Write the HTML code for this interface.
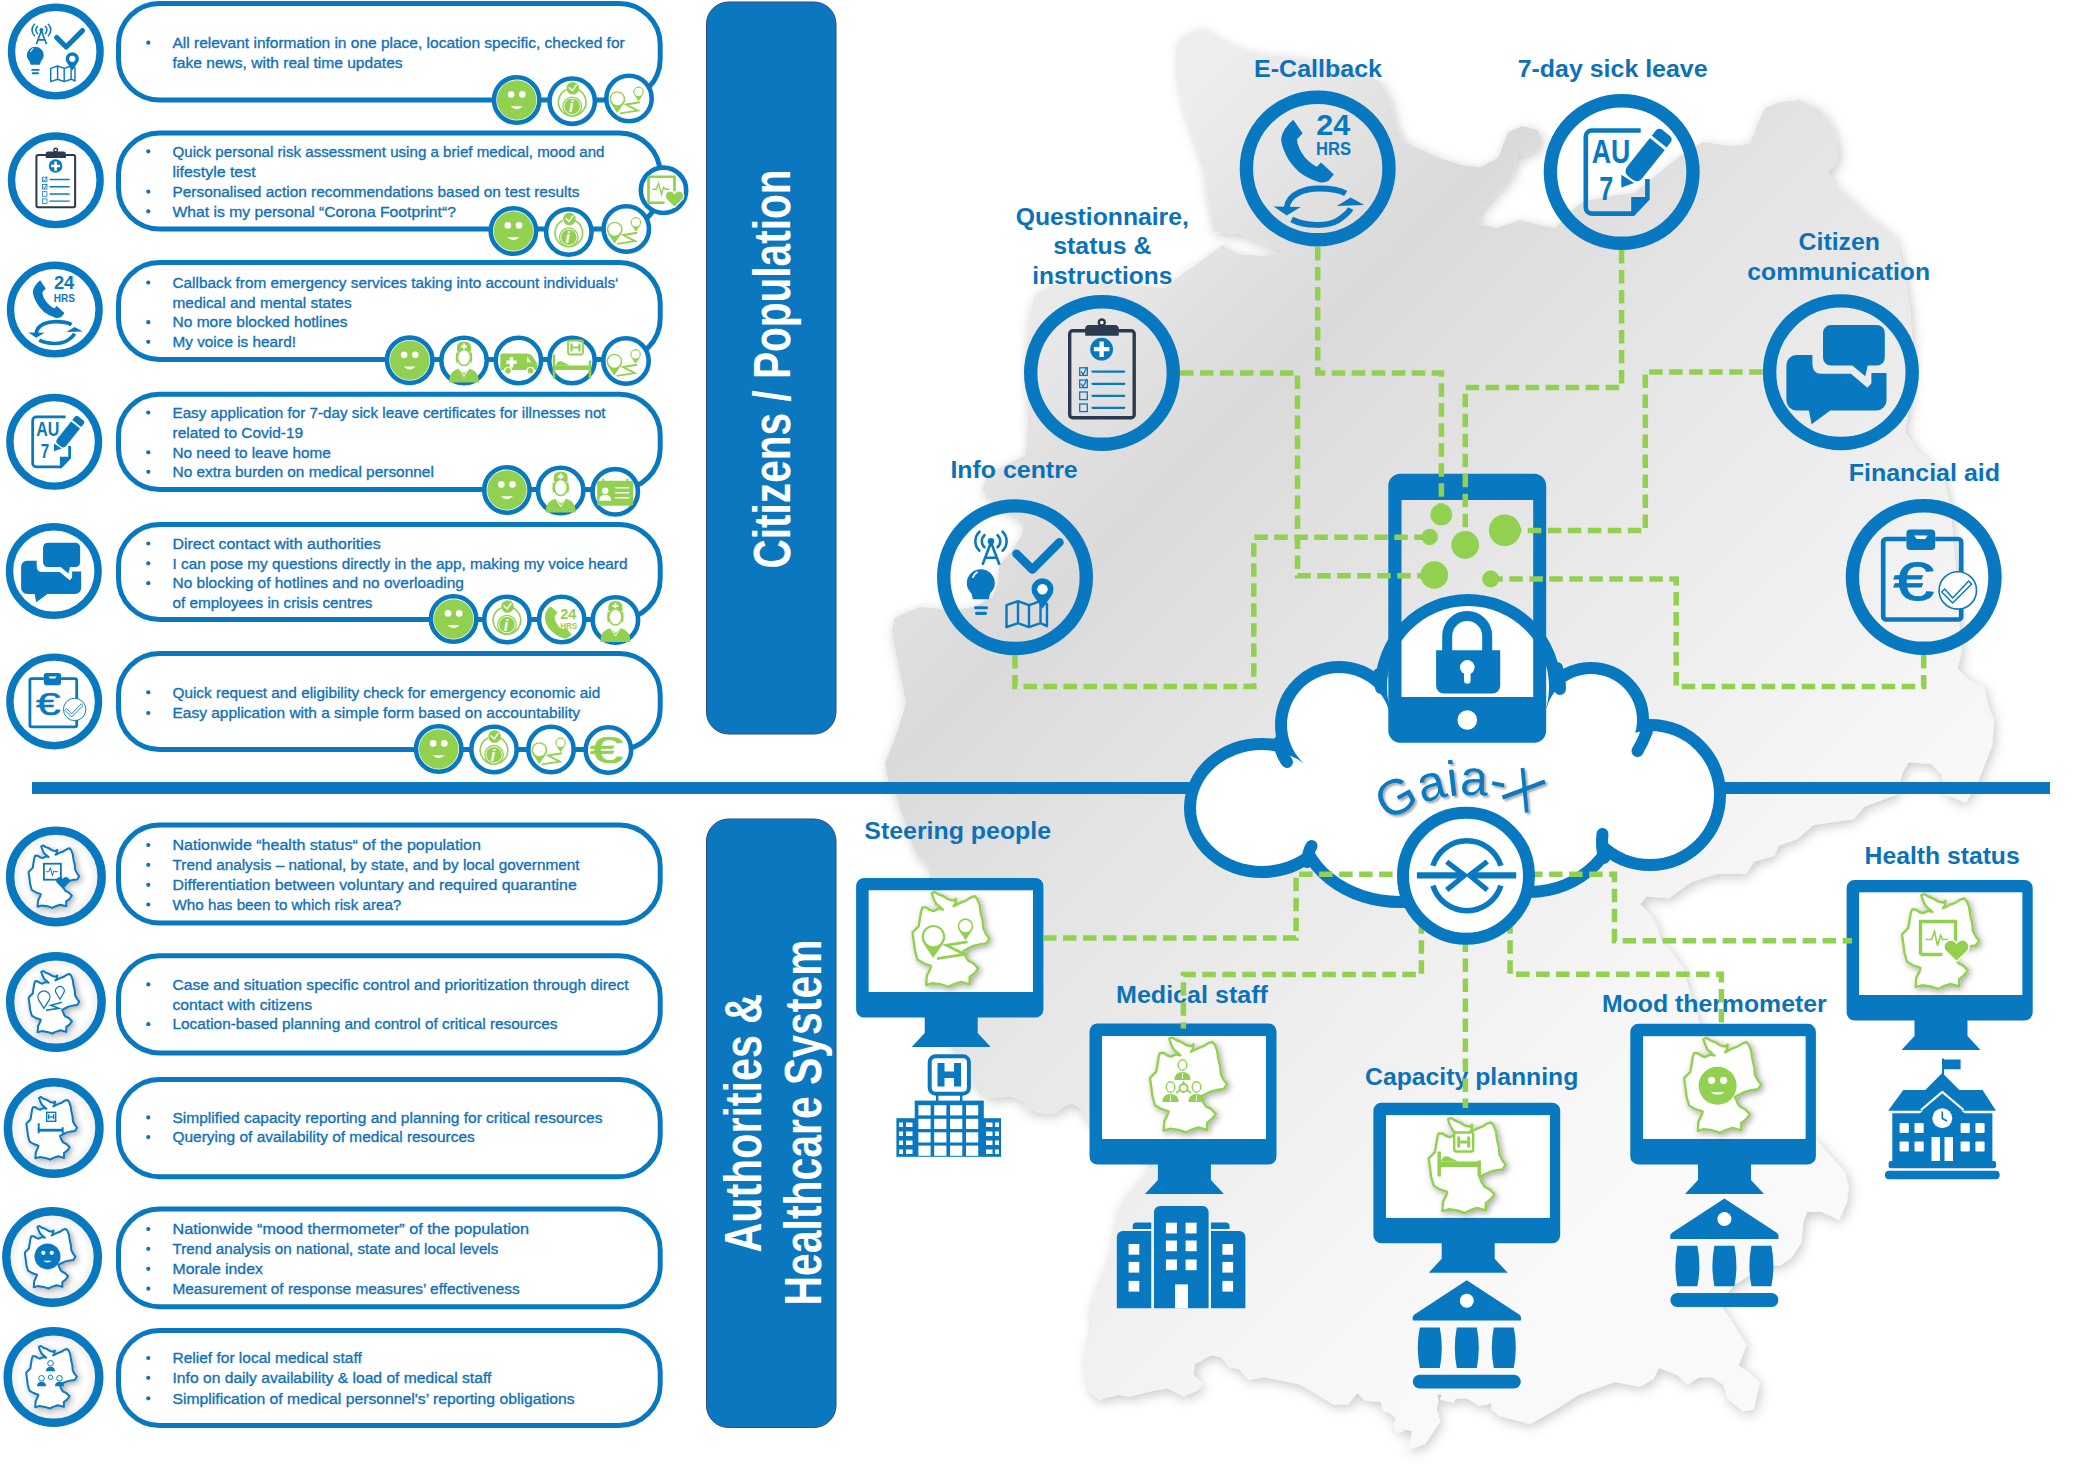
<!DOCTYPE html>
<html><head><meta charset="utf-8"><title>Citizens / Authorities - Gaia-X</title>
<style>
html,body{margin:0;padding:0;background:#fff;width:2083px;height:1475px;overflow:hidden;}
svg text{font-family:"Liberation Sans",sans-serif;}
</style></head>
<body>
<svg xmlns="http://www.w3.org/2000/svg" width="2083" height="1475" viewBox="0 0 2083 1475" style="position:absolute;left:0;top:0"><defs>
<linearGradient id="mapg" gradientUnits="userSpaceOnUse" x1="636" y1="636" x2="1414" y2="1414"><stop offset="0" stop-color="#eeeeee"/><stop offset="0.098" stop-color="#e6e6e6"/><stop offset="0.145" stop-color="#e1e1e1"/><stop offset="0.245" stop-color="#dadada"/><stop offset="0.339" stop-color="#dfdfdf"/><stop offset="0.464" stop-color="#e5e5e5"/><stop offset="0.855" stop-color="#f5f5f5"/><stop offset="1" stop-color="#f9f9f9"/></linearGradient>
<filter id="mapsh" x="-5%" y="-5%" width="110%" height="110%"><feGaussianBlur in="SourceAlpha" stdDeviation="6"/><feOffset dx="2" dy="3" result="b"/><feFlood flood-color="#000" flood-opacity="0.22"/><feComposite in2="b" operator="in"/><feMerge><feMergeNode/><feMergeNode in="SourceGraphic"/></feMerge></filter>
<filter id="smsh" x="-30%" y="-30%" width="160%" height="160%"><feGaussianBlur in="SourceAlpha" stdDeviation="3"/><feOffset dx="2" dy="2" result="b"/><feFlood flood-color="#000" flood-opacity="0.35"/><feComposite in2="b" operator="in"/><feMerge><feMergeNode/><feMergeNode in="SourceGraphic"/></feMerge></filter>
<filter id="txsh" x="-10%" y="-10%" width="120%" height="130%"><feGaussianBlur in="SourceAlpha" stdDeviation="1.2"/><feOffset dx="2" dy="2" result="b"/><feFlood flood-color="#000" flood-opacity="0.35"/><feComposite in2="b" operator="in"/><feMerge><feMergeNode/><feMergeNode in="SourceGraphic"/></feMerge></filter>
<radialGradient id="innersh" cx="0.5" cy="0.5" r="0.5"><stop offset="0.72" stop-color="#fff"/><stop offset="0.9" stop-color="#f0f0f0"/><stop offset="1" stop-color="#c8c8c8"/></radialGradient>
<g id="ic_info">
<g fill="none" stroke="#0879c0" stroke-width="2.6" stroke-linecap="round">
<path d="M-30.5,-42 A8,8 0 0 0 -30.5,-30"/><path d="M-35.5,-45.5 A13,13 0 0 0 -35.5,-26.5"/>
<path d="M-17.5,-42 A8,8 0 0 1 -17.5,-30"/><path d="M-12.5,-45.5 A13,13 0 0 1 -12.5,-26.5"/>
</g>
<circle cx="-24" cy="-36" r="3.3" fill="#0879c0"/>
<path d="M-24,-35 L-32.5,-12.5 M-24,-35 L-15.5,-12.5 M-29.5,-19.5 L-18.5,-19.5" stroke="#0879c0" stroke-width="2.6" fill="none"/>
<path d="M1.5,-23.5 L17.3,-7.7 L44.5,-35" stroke="#0879c0" stroke-width="8.6" fill="none" stroke-linecap="round" stroke-linejoin="round"/>
<path d="M-34.2,-8 a14,14 0 0 1 14,14 c0,5 -3,8 -5,11 l-1,5 h-16 l-1,-5 c-2,-3 -5,-6 -5,-11 a14,14 0 0 1 14,-14z" fill="#0879c0"/>
<path d="M-42,0 a9,9 0 0 1 4,-5" stroke="#fff" stroke-width="1.8" fill="none" stroke-linecap="round"/>
<rect x="-41" y="29" width="14" height="3" rx="1.5" fill="#0879c0"/>
<rect x="-40" y="34.5" width="12" height="3.2" rx="1.6" fill="#0879c0"/>
<path d="M-8.5,28 L3,24 L14,28 L25.5,24 L32,27 L32,49 L25.5,46 L14,50 L3,46 L-8.5,50 Z M3,24 V46 M14,28 V50 M25.5,24 V46" fill="none" stroke="#0879c0" stroke-width="2.4" stroke-linejoin="round"/>
<path d="M27.5,31.5 L19,19 A11,11 0 1 1 36,19 Z" fill="#0879c0"/>
<circle cx="27.5" cy="12" r="5.2" fill="#fff"/>
</g>
<g id="ic_quest">
<rect x="-32.3" y="-42.2" width="64.5" height="87" rx="3" fill="none" stroke="#2b3b4f" stroke-width="3.4"/>
<path d="M-16.8,-37.2 V-44 a4,4 0 0 1 4,-4 H12.8 a4,4 0 0 1 4,4 V-37.2 Z" fill="#2b3b4f"/>
<circle cx="-0.2" cy="-50.5" r="4.2" fill="#2b3b4f"/><circle cx="-0.2" cy="-50.5" r="1.8" fill="#fff"/>
<circle cx="-0.4" cy="-23.8" r="11.4" fill="#0879c0"/>
<path d="M-0.4,-31.5 V-16.1 M-8.1,-23.8 H7.3" stroke="#fff" stroke-width="4.3"/>
<g fill="none" stroke="#0879c0" stroke-width="1.3">
<rect x="-22.3" y="-5.2" width="7.6" height="7.6"/><rect x="-22.3" y="7" width="7.6" height="7.6"/>
<rect x="-22.3" y="19" width="7.6" height="7.6"/><rect x="-22.3" y="31" width="7.6" height="7.6"/>
<path d="M-21,-1.5 L-18.8,1.5 L-15,-6 M-21,10.7 L-18.8,13.7 L-15,6"/>
</g>
<g stroke="#0879c0" stroke-width="2.3" stroke-linecap="round">
<path d="M-9.5,-1.4 H22.2 M-9.5,10.8 H22.2 M-9.5,22.8 H22.2 M-9.5,34.8 H22.2"/>
</g>
</g>
<g id="ic_call">
<path d="M-24.4,-48.8 L-15.1,-35.3 L-20.8,-28.9 Q-20,-20 -12.3,-10.4 Q-6,-4 -0.9,-1.8 L3.4,-6.1 L16.2,6 L10.5,12.4 Q5,14.5 1.9,13.8 Q-10,10 -18,3.9 Q-28,-5 -32.2,-14.6 Q-37,-25 -36.5,-30 Q-35,-40 -24.4,-48.8 Z" fill="#0879c0"/>
<text x="-1.5" y="-33.8" font-family="Liberation Sans" font-weight="bold" font-size="30" fill="#0879c0" textLength="34" lengthAdjust="spacingAndGlyphs">24</text>
<text x="-1.6" y="-13.2" font-family="Liberation Sans" font-weight="bold" font-size="19" fill="#0879c0" textLength="35" lengthAdjust="spacingAndGlyphs">HRS</text>
<path d="M-31,40 C-30,24 -10,20 1,20 C14,20 23,22 28,25" fill="none" stroke="#0879c0" stroke-width="6"/>
<path d="M-44,38 L-17,38.5 L-31,47 Z" fill="#0879c0"/>
<path d="M-26,51 C-12,58 10,58 20,52 C26,48 31,44 33,40" fill="none" stroke="#0879c0" stroke-width="6"/>
<path d="M19,37.5 L46.5,36.5 L33,29 Z" fill="#0879c0"/>
</g>
<g id="ic_au">
<path d="M19,-41.5 H-29.9 A6,6 0 0 0 -35.9,-35.5 V35.6 A6,6 0 0 0 -29.9,41.6 H11.5 L25.7,26.5 V7" fill="none" stroke="#0879c0" stroke-width="4.6"/>
<path d="M9.5,24.9 H25.7 V27 L11,43.9 H9.5 Z" fill="#0879c0"/>
<text x="-30" y="-9.3" font-family="Liberation Sans" font-weight="bold" font-size="33" fill="#0879c0" textLength="38.5" lengthAdjust="spacingAndGlyphs">AU</text>
<text x="-22.5" y="27.7" font-family="Liberation Sans" font-weight="bold" font-size="33" fill="#0879c0" textLength="14" lengthAdjust="spacingAndGlyphs">7</text>
<g transform="translate(14.5,-1.5) rotate(-51.5)">
<path d="M-3,-9.5 H33.9 V9.5 H-3 a6.5,6.5 0 0 1 -6.5,-6.5 V-3 a6.5,6.5 0 0 1 6.5,-6.5 Z" fill="#0879c0"/>
<path d="M37,-9.5 H43.5 a4.5,4.5 0 0 1 4.5,4.5 V5 a4.5,4.5 0 0 1 -4.5,4.5 H37 Z" fill="#0879c0"/>
</g>
<path d="M-0.4,2.8 L12.4,11 L-0.4,15.6 Z" fill="#0879c0"/>
</g>
<g id="ic_chat">
<path d="M-44.5,-17.2 H-28.5 V-8 Q-28.5,1.6 -19.5,1.6 H10 L26.5,15.5 L30.5,11 V0.8 H45.6 V28.2 a10,10 0 0 1 -10,10 H-10.6 L-29.3,52 L-32,38.2 H-44.5 a10,10 0 0 1 -10,-10 V-7.2 a10,10 0 0 1 10,-10 Z" fill="#0879c0"/>
<path d="M-9.9,-47.2 H35.9 a8,8 0 0 1 8,8 V-14.6 a8,8 0 0 1 -8,8 H26.8 L24.4,4 L11.4,-6.6 H-9.9 a8,8 0 0 1 -8,-8 V-39.2 a8,8 0 0 1 8,-8 Z" fill="#0879c0"/>
</g>
<g id="ic_fin">
<path d="M-17.3,-38 H-37.5 a3,3 0 0 0 -3,3 V39.5 a3,3 0 0 0 3,3 H34.5 a3,3 0 0 0 3,-3 V-35 a3,3 0 0 0 -3,-3 H11.5" fill="none" stroke="#0879c0" stroke-width="4.7"/>
<rect x="-17.3" y="-47.4" width="28.8" height="20.3" rx="4" fill="#0879c0"/>
<path d="M-9.5,-41.5 H4 L1.5,-38 H-7 Z" fill="#fff"/>
<text x="-30.5" y="22.8" font-family="Liberation Sans" font-size="53" fill="#0879c0" stroke="#0879c0" stroke-width="0.8" textLength="41" lengthAdjust="spacingAndGlyphs">&#8364;</text>
<circle cx="34.1" cy="13.4" r="18.7" fill="#fff" stroke="#0879c0" stroke-width="1.6"/>
<path d="M21,12 L29,21 L45,4 L48,7 L29,26 L18,15 Z" fill="#fff" stroke="#0879c0" stroke-width="1.5" stroke-linejoin="round"/>
</g>
<g id="g_smile">
<circle r="19.8" fill="#92d050"/>
<circle cx="-5.6" cy="-5.6" r="3.3" fill="#fff"/><circle cx="5.6" cy="-5.6" r="3.3" fill="#fff"/>
<path d="M-6.2,6.3 Q0,12 6.2,6.3 Z" fill="#fff"/>
</g>
<g id="g_info">
<path d="M-6,-11.5 A13.8,13.8 0 1 0 6,-11.5" fill="none" stroke="#92d050" stroke-width="1.6"/>
<circle cy="5.2" r="9.9" fill="#92d050"/>
<circle cy="5.2" r="8.2" fill="none" stroke="#fff" stroke-width="0.9"/>
<text x="-3.2" y="11" font-family="Liberation Serif" font-style="italic" font-weight="bold" font-size="16" fill="#fff">i</text>
<circle cx="0.6" cy="-13" r="6.3" fill="#92d050"/>
<path d="M-3.4,-14 L0.2,-10.5 L4.5,-16.5" fill="none" stroke="#fff" stroke-width="1.3"/>
</g>
<g id="pins">
<path d="M-17.9,18.5 L-27.8,3.6 A11.9,11.9 0 1 1 -7.4,3.6 Z" fill="#92d050"/>
<circle cx="-17.6" cy="-2.8" r="9.6" fill="#fff"/>
<path d="M14.5,0.8 L7.9,-9.1 A7.8,7.8 0 1 1 21.1,-9.1 Z" fill="#92d050"/>
<circle cx="14.5" cy="-13.3" r="6.2" fill="#fff"/>
<path d="M16.5,2.4 L-4.5,5.8 L13.5,15 L-14,19.3" fill="none" stroke="#92d050" stroke-width="2.8" stroke-linejoin="miter" stroke-miterlimit="12"/>
</g>
<g id="g_loc"><use href="#pins" transform="translate(0,2.2) scale(0.66)"/></g>
<g id="g_nurse">
<path d="M-7,-13 Q-7,-19 0,-19 Q7,-19 7,-13 V-9 H-7 Z" fill="#92d050"/>
<path d="M-1,-17 H1 V-15 H3 V-13 H1 V-11 H-1 V-13 H-3 V-15 H-1 Z" fill="#fff"/>
<ellipse cx="0" cy="-3" rx="6.5" ry="8" fill="#fff" stroke="#92d050" stroke-width="1.6"/>
<path d="M-7,-8 Q-8,-2 -7,2 M7,-8 Q8,-2 7,2" stroke="#92d050" stroke-width="1.6" fill="none"/>
<path d="M-15,22 Q-15,10 -5,8 L0,13 L5,8 Q15,10 15,22 Z" fill="#92d050"/>
<path d="M-5,8 L0,16 L5,8" stroke="#fff" stroke-width="1" fill="none"/>
</g>
<g id="g_amb" transform="scale(0.86)">
<path d="M-21,-6 a2,2 0 0 1 2,-2 H9 Q14,-8 17,-4 L21,2 Q22,4 22,6 V11 H-21 Z" fill="#92d050"/>
<path d="M10,-5 L15,2 H10 Z" fill="#fff"/>
<path d="M-10,-4 H-6 V0 H-2 V4 H-6 V8 H-10 V4 H-14 V0 H-10 Z" fill="#fff"/>
<circle cx="-12" cy="12" r="4" fill="#92d050" stroke="#fff" stroke-width="1.5"/>
<circle cx="14" cy="12" r="4" fill="#92d050" stroke="#fff" stroke-width="1.5"/>
</g>
<g id="g_bed">
<rect x="-4" y="-20" width="15" height="14" rx="2" fill="none" stroke="#92d050" stroke-width="1.8"/>
<path d="M-0.5,-17 V-9 M7.5,-17 V-9 M-0.5,-13 H7.5" stroke="#92d050" stroke-width="2.2"/>
<path d="M-18,-6 V18 M18,0 V18" stroke="#92d050" stroke-width="2.6"/>
<rect x="-18" y="5" width="36" height="4.5" fill="#92d050"/>
<path d="M-16,5 Q-15,0 -10,1 L-2,5 Z" fill="#92d050"/>
</g>
<g id="g_card">
<rect x="-18" y="-11" width="36" height="25" rx="2.5" fill="#92d050"/>
<path d="M-12,-13 V-9 M12,-13 V-9" stroke="#92d050" stroke-width="2"/>
<circle cx="-10" cy="-1" r="3.2" fill="#fff"/>
<path d="M-16,9 Q-16,3 -10,3 Q-4,3 -4,9 Z" fill="#fff"/>
<path d="M0,-4 H14 M0,1 H14 M0,6 H14" stroke="#fff" stroke-width="1.4"/>
</g>
<g id="g_24">
<path d="M-11,-13 C-18,-9 -18,1 -14,7 C-10,13 -3,18 3,19 C6,19 8,17 10,15 L4,8 C2,10 0,10 -2,8 C-5,5 -7,1 -7,-2 C-7,-4 -6,-5 -4,-7 Z" fill="#92d050"/>
<text x="-1.5" y="-1" font-family="Liberation Sans" font-weight="bold" font-size="15" fill="#92d050" textLength="16" lengthAdjust="spacingAndGlyphs">24</text>
<text x="-1.5" y="9" font-family="Liberation Sans" font-weight="bold" font-size="9.5" fill="#92d050" textLength="17" lengthAdjust="spacingAndGlyphs">HRS</text>
</g>
<g id="g_euro">
<text x="-18.5" y="13" font-family="Liberation Sans" font-size="37" fill="#92d050" stroke="#92d050" stroke-width="0.7" textLength="33" lengthAdjust="spacingAndGlyphs">&#8364;</text>
</g>
<g id="g_heart">
<path d="M-15,-13.5 H11 V1 M-15,-13.5 V12.5 H1" fill="none" stroke="#92d050" stroke-width="2.6"/>
<path d="M-11,-1 H-7 L-5,-7 L-2,4 L0,-3 L2,-1 H6" fill="none" stroke="#92d050" stroke-width="1.4"/>
<path d="M11,17 L2.5,8.5 A4.5,4.5 0 0 1 11,3 A4.5,4.5 0 0 1 19.5,8.5 Z" fill="#92d050" stroke="#fff" stroke-width="1.2"/>
</g>
</defs>
<path d="M1178.0,42.0 L1190.0,32.0 L1205.0,30.0 L1215.0,38.0 L1240.0,50.0 L1265.0,55.0 L1300.0,58.0 L1335.0,66.0 L1365.0,74.0 L1380.0,82.0 L1390.0,100.0 L1396.0,125.0 L1402.0,140.0 L1415.0,147.0 L1440.0,158.0 L1462.0,165.0 L1480.0,167.0 L1498.0,158.0 L1508.0,132.0 L1522.0,126.0 L1538.0,130.0 L1542.0,143.0 L1532.0,153.0 L1518.0,156.0 L1512.0,175.0 L1495.0,195.0 L1480.0,212.0 L1478.0,224.0 L1496.0,228.0 L1520.0,220.0 L1540.0,225.0 L1555.0,228.0 L1570.0,212.0 L1582.0,202.0 L1610.0,196.0 L1634.0,193.0 L1660.0,172.0 L1680.0,156.0 L1703.0,142.0 L1730.0,146.0 L1750.0,144.0 L1757.0,125.0 L1765.0,108.0 L1780.0,102.0 L1800.0,100.0 L1820.0,110.0 L1830.0,122.0 L1838.0,145.0 L1838.0,162.0 L1828.0,172.0 L1835.0,185.0 L1845.0,195.0 L1869.0,217.0 L1895.0,237.0 L1904.0,270.0 L1910.0,310.0 L1913.0,350.0 L1911.0,395.0 L1905.0,432.0 L1918.0,452.0 L1942.0,472.0 L1950.0,505.0 L1955.0,560.0 L1959.0,620.0 L1961.6,652.2 L1957.5,668.5 L1969.7,680.7 L1984.0,686.8 L1988.0,705.0 L1994.1,721.3 L1992.1,745.7 L1984.0,766.0 L1977.9,782.3 L1965.7,802.7 L1945.3,794.5 L1941.3,774.2 L1931.1,764.0 L1908.7,762.0 L1902.6,772.2 L1896.5,794.5 L1864.0,806.7 L1853.8,819.0 L1813.2,825.0 L1796.9,839.3 L1778.6,845.4 L1774.5,855.5 L1754.2,861.6 L1746.1,873.8 L1717.6,873.8 L1691.2,882.0 L1668.8,898.2 L1646.4,896.2 L1640.3,904.3 L1650.5,914.5 L1656.6,924.7 L1660.7,940.0 L1670.0,950.0 L1683.0,968.0 L1690.0,993.0 L1700.0,1025.0 L1730.0,1060.0 L1770.0,1100.0 L1800.0,1128.0 L1816.5,1140.0 L1829.8,1155.2 L1845.0,1172.3 L1848.7,1187.4 L1846.8,1202.6 L1839.2,1219.7 L1822.2,1212.1 L1807.0,1212.1 L1803.2,1221.6 L1801.3,1242.5 L1791.8,1257.6 L1780.4,1265.2 L1771.0,1265.2 L1753.9,1272.8 L1734.9,1284.2 L1723.5,1297.5 L1721.6,1307.0 L1731.1,1320.3 L1746.3,1345.0 L1738.7,1365.8 L1750.1,1373.4 L1759.5,1382.9 L1753.9,1409.5 L1742.5,1411.3 L1727.3,1398.1 L1723.5,1384.8 L1712.1,1377.2 L1698.8,1377.2 L1687.4,1384.8 L1678.0,1375.3 L1659.0,1367.7 L1653.3,1379.1 L1640.0,1386.7 L1615.0,1382.0 L1578.0,1395.0 L1555.0,1410.0 L1530.0,1424.0 L1500.0,1416.0 L1491.0,1409.0 L1492.0,1403.6 L1478.6,1405.5 L1467.0,1398.3 L1455.5,1398.8 L1453.6,1402.6 L1440.2,1399.8 L1442.1,1395.0 L1437.3,1394.0 L1438.3,1401.7 L1436.3,1408.4 L1440.2,1421.8 L1424.8,1443.9 L1405.6,1450.7 L1409.5,1443.0 L1412.3,1431.4 L1405.6,1429.5 L1398.0,1433.4 L1393.1,1425.7 L1396.0,1419.0 L1390.3,1413.2 L1383.5,1411.3 L1380.7,1401.7 L1365.3,1400.7 L1357.6,1393.0 L1353.8,1396.9 L1348.0,1404.6 L1333.6,1404.6 L1300.0,1384.4 L1287.8,1381.8 L1263.4,1376.9 L1248.7,1380.1 L1239.0,1368.7 L1229.2,1367.1 L1221.0,1357.3 L1211.3,1354.9 L1195.0,1363.9 L1193.4,1375.3 L1203.2,1383.4 L1198.3,1389.9 L1183.7,1396.4 L1167.4,1388.3 L1149.5,1391.5 L1130.0,1396.4 L1118.6,1394.8 L1099.0,1399.7 L1089.3,1389.9 L1084.4,1359.0 L1092.5,1323.2 L1089.3,1310.2 L1100.7,1277.6 L1108.8,1261.4 L1115.3,1228.8 L1118.2,1210.0 L1124.7,1198.8 L1135.6,1184.7 L1145.0,1175.0 L1154.0,1165.0 L1120.0,1140.0 L1089.0,1122.0 L1080.3,1107.7 L1072.7,1103.4 L1065.1,1105.6 L1056.4,1113.1 L1045.6,1113.7 L1035.8,1112.0 L1031.5,1108.8 L1028.2,1114.2 L1023.9,1101.2 L1009.8,1095.8 L1000.0,1098.0 L988.0,1098.0 L973.0,1083.0 L960.0,1060.0 L945.0,1034.0 L935.0,1000.0 L930.0,960.0 L930.0,900.0 L930.0,866.0 L918.0,857.0 L909.0,836.0 L900.0,808.0 L896.0,796.0 L888.0,780.0 L885.0,763.0 L895.0,738.0 L906.0,703.0 L899.0,668.0 L892.0,632.0 L894.0,618.0 L919.0,607.0 L955.0,610.0 L974.0,607.0 L993.0,596.0 L998.0,583.0 L999.0,565.0 L1010.0,553.0 L1022.0,535.0 L1024.0,520.0 L995.0,505.0 L982.0,490.0 L987.0,474.0 L1026.0,455.0 L1028.0,420.0 L1026.0,380.0 L1026.0,350.0 L1029.0,315.0 L1035.0,295.0 L1050.0,285.0 L1090.0,283.0 L1130.0,285.0 L1165.0,288.0 L1185.0,272.0 L1209.0,255.0 L1222.0,245.0 L1237.0,254.0 L1262.0,256.0 L1285.0,252.0 L1262.0,243.0 L1240.0,234.0 L1214.0,232.0 L1208.0,200.0 L1205.0,170.0 L1195.0,140.0 L1185.0,110.0 L1178.0,75.0Z" fill="url(#mapg)" filter="url(#mapsh)"/>
<rect x="32" y="782" width="2018" height="12" fill="#0a77bf"/>
<rect x="118.5" y="3.5" width="541.7" height="96.5" rx="41" ry="41" fill="#fff" stroke="#0879c0" stroke-width="5"/>
<rect x="118.5" y="133.0" width="541.7" height="96.0" rx="41" ry="41" fill="#fff" stroke="#0879c0" stroke-width="5"/>
<rect x="118.5" y="262.5" width="541.7" height="97.0" rx="41" ry="41" fill="#fff" stroke="#0879c0" stroke-width="5"/>
<rect x="118.5" y="394.2" width="541.7" height="95.3" rx="41" ry="41" fill="#fff" stroke="#0879c0" stroke-width="5"/>
<rect x="118.5" y="524.5" width="541.7" height="95.0" rx="41" ry="41" fill="#fff" stroke="#0879c0" stroke-width="5"/>
<rect x="118.5" y="653.5" width="541.7" height="96.0" rx="41" ry="41" fill="#fff" stroke="#0879c0" stroke-width="5"/>
<rect x="118.5" y="825.1" width="541.7" height="98.0" rx="41" ry="41" fill="#fff" stroke="#0879c0" stroke-width="5"/>
<rect x="118.5" y="955.8" width="541.7" height="97.1" rx="41" ry="41" fill="#fff" stroke="#0879c0" stroke-width="5"/>
<rect x="118.5" y="1079.4" width="541.7" height="97.3" rx="41" ry="41" fill="#fff" stroke="#0879c0" stroke-width="5"/>
<rect x="118.5" y="1208.9" width="541.7" height="97.9" rx="41" ry="41" fill="#fff" stroke="#0879c0" stroke-width="5"/>
<rect x="118.5" y="1330.5" width="541.7" height="95.0" rx="41" ry="41" fill="#fff" stroke="#0879c0" stroke-width="5"/>
<circle cx="148.3" cy="42.7" r="2.1" fill="#1271b8"/><text x="172.5" y="47.9" font-size="15.5" fill="#1271b8" stroke="#1271b8" stroke-width="0.35" textLength="452.2" lengthAdjust="spacingAndGlyphs">All relevant information in one place, location specific, checked for</text>
<text x="172.5" y="67.5" font-size="15.5" fill="#1271b8" stroke="#1271b8" stroke-width="0.35" textLength="230.1" lengthAdjust="spacingAndGlyphs">fake news, with real time updates</text>
<circle cx="148.3" cy="151.3" r="2.1" fill="#1271b8"/><text x="172.5" y="156.5" font-size="15.5" fill="#1271b8" stroke="#1271b8" stroke-width="0.35" textLength="432.0" lengthAdjust="spacingAndGlyphs">Quick personal risk assessment using a brief medical, mood and</text>
<text x="172.5" y="176.7" font-size="15.5" fill="#1271b8" stroke="#1271b8" stroke-width="0.35" textLength="83.1" lengthAdjust="spacingAndGlyphs">lifestyle test</text>
<circle cx="148.3" cy="191.6" r="2.1" fill="#1271b8"/><text x="172.5" y="196.8" font-size="15.5" fill="#1271b8" stroke="#1271b8" stroke-width="0.35" textLength="407.0" lengthAdjust="spacingAndGlyphs">Personalised action recommendations based on test results</text>
<circle cx="148.3" cy="211.3" r="2.1" fill="#1271b8"/><text x="172.5" y="216.5" font-size="15.5" fill="#1271b8" stroke="#1271b8" stroke-width="0.35" textLength="283.4" lengthAdjust="spacingAndGlyphs">What is my personal “Corona Footprint“?</text>
<circle cx="148.3" cy="282.6" r="2.1" fill="#1271b8"/><text x="172.5" y="287.8" font-size="15.5" fill="#1271b8" stroke="#1271b8" stroke-width="0.35" textLength="446.0" lengthAdjust="spacingAndGlyphs">Callback from emergency services taking into account individuals‘</text>
<text x="172.5" y="307.5" font-size="15.5" fill="#1271b8" stroke="#1271b8" stroke-width="0.35" textLength="179.1" lengthAdjust="spacingAndGlyphs">medical and mental states</text>
<circle cx="148.3" cy="322.2" r="2.1" fill="#1271b8"/><text x="172.5" y="327.4" font-size="15.5" fill="#1271b8" stroke="#1271b8" stroke-width="0.35" textLength="175.0" lengthAdjust="spacingAndGlyphs">No more blocked hotlines</text>
<circle cx="148.3" cy="341.8" r="2.1" fill="#1271b8"/><text x="172.5" y="347.0" font-size="15.5" fill="#1271b8" stroke="#1271b8" stroke-width="0.35" textLength="123.5" lengthAdjust="spacingAndGlyphs">My voice is heard!</text>
<circle cx="148.3" cy="412.6" r="2.1" fill="#1271b8"/><text x="172.5" y="417.8" font-size="15.5" fill="#1271b8" stroke="#1271b8" stroke-width="0.35" textLength="433.1" lengthAdjust="spacingAndGlyphs">Easy application for 7-day sick leave certificates for illnesses not</text>
<text x="172.5" y="437.5" font-size="15.5" fill="#1271b8" stroke="#1271b8" stroke-width="0.35" textLength="130.7" lengthAdjust="spacingAndGlyphs">related to Covid-19</text>
<circle cx="148.3" cy="452.3" r="2.1" fill="#1271b8"/><text x="172.5" y="457.5" font-size="15.5" fill="#1271b8" stroke="#1271b8" stroke-width="0.35" textLength="158.4" lengthAdjust="spacingAndGlyphs">No need to leave home</text>
<circle cx="148.3" cy="471.8" r="2.1" fill="#1271b8"/><text x="172.5" y="477.0" font-size="15.5" fill="#1271b8" stroke="#1271b8" stroke-width="0.35" textLength="261.3" lengthAdjust="spacingAndGlyphs">No extra burden on medical personnel</text>
<circle cx="148.3" cy="543.5" r="2.1" fill="#1271b8"/><text x="172.5" y="548.7" font-size="15.5" fill="#1271b8" stroke="#1271b8" stroke-width="0.35" textLength="208.1" lengthAdjust="spacingAndGlyphs">Direct contact with authorities</text>
<circle cx="148.3" cy="563.3" r="2.1" fill="#1271b8"/><text x="172.5" y="568.5" font-size="15.5" fill="#1271b8" stroke="#1271b8" stroke-width="0.35" textLength="454.9" lengthAdjust="spacingAndGlyphs">I can pose my questions directly in the app, making my voice heard</text>
<circle cx="148.3" cy="583.2" r="2.1" fill="#1271b8"/><text x="172.5" y="588.4" font-size="15.5" fill="#1271b8" stroke="#1271b8" stroke-width="0.35" textLength="291.4" lengthAdjust="spacingAndGlyphs">No blocking of hotlines and no overloading</text>
<text x="172.5" y="608.0" font-size="15.5" fill="#1271b8" stroke="#1271b8" stroke-width="0.35" textLength="200.0" lengthAdjust="spacingAndGlyphs">of employees in crisis centres</text>
<circle cx="148.3" cy="692.3" r="2.1" fill="#1271b8"/><text x="172.5" y="697.5" font-size="15.5" fill="#1271b8" stroke="#1271b8" stroke-width="0.35" textLength="427.7" lengthAdjust="spacingAndGlyphs">Quick request and eligibility check for emergency economic aid</text>
<circle cx="148.3" cy="713.0" r="2.1" fill="#1271b8"/><text x="172.5" y="718.2" font-size="15.5" fill="#1271b8" stroke="#1271b8" stroke-width="0.35" textLength="407.5" lengthAdjust="spacingAndGlyphs">Easy application with a simple form based on accountability</text>
<circle cx="148.3" cy="845.0" r="2.1" fill="#1271b8"/><text x="172.5" y="850.2" font-size="15.5" fill="#1271b8" stroke="#1271b8" stroke-width="0.35" textLength="308.4" lengthAdjust="spacingAndGlyphs">Nationwide “health status“ of the population</text>
<circle cx="148.3" cy="864.8" r="2.1" fill="#1271b8"/><text x="172.5" y="870.0" font-size="15.5" fill="#1271b8" stroke="#1271b8" stroke-width="0.35" textLength="407.0" lengthAdjust="spacingAndGlyphs">Trend analysis – national, by state, and by local government</text>
<circle cx="148.3" cy="884.8" r="2.1" fill="#1271b8"/><text x="172.5" y="890.0" font-size="15.5" fill="#1271b8" stroke="#1271b8" stroke-width="0.35" textLength="404.3" lengthAdjust="spacingAndGlyphs">Differentiation between voluntary and required quarantine</text>
<circle cx="148.3" cy="904.5" r="2.1" fill="#1271b8"/><text x="172.5" y="909.7" font-size="15.5" fill="#1271b8" stroke="#1271b8" stroke-width="0.35" textLength="228.8" lengthAdjust="spacingAndGlyphs">Who has been to which risk area?</text>
<circle cx="148.3" cy="984.4" r="2.1" fill="#1271b8"/><text x="172.5" y="989.6" font-size="15.5" fill="#1271b8" stroke="#1271b8" stroke-width="0.35" textLength="456.2" lengthAdjust="spacingAndGlyphs">Case and situation specific control and prioritization through direct</text>
<text x="172.5" y="1009.5" font-size="15.5" fill="#1271b8" stroke="#1271b8" stroke-width="0.35" textLength="139.5" lengthAdjust="spacingAndGlyphs">contact with citizens</text>
<circle cx="148.3" cy="1024.2" r="2.1" fill="#1271b8"/><text x="172.5" y="1029.4" font-size="15.5" fill="#1271b8" stroke="#1271b8" stroke-width="0.35" textLength="385.0" lengthAdjust="spacingAndGlyphs">Location-based planning and control of critical resources</text>
<circle cx="148.3" cy="1117.4" r="2.1" fill="#1271b8"/><text x="172.5" y="1122.6" font-size="15.5" fill="#1271b8" stroke="#1271b8" stroke-width="0.35" textLength="429.9" lengthAdjust="spacingAndGlyphs">Simplified capacity reporting and planning for critical resources</text>
<circle cx="148.3" cy="1137.1" r="2.1" fill="#1271b8"/><text x="172.5" y="1142.3" font-size="15.5" fill="#1271b8" stroke="#1271b8" stroke-width="0.35" textLength="302.2" lengthAdjust="spacingAndGlyphs">Querying of availability of medical resources</text>
<circle cx="148.3" cy="1229.0" r="2.1" fill="#1271b8"/><text x="172.5" y="1234.2" font-size="15.5" fill="#1271b8" stroke="#1271b8" stroke-width="0.35" textLength="356.5" lengthAdjust="spacingAndGlyphs">Nationwide “mood thermometer” of the population</text>
<circle cx="148.3" cy="1248.8" r="2.1" fill="#1271b8"/><text x="172.5" y="1254.0" font-size="15.5" fill="#1271b8" stroke="#1271b8" stroke-width="0.35" textLength="325.8" lengthAdjust="spacingAndGlyphs">Trend analysis on national, state and local levels</text>
<circle cx="148.3" cy="1268.8" r="2.1" fill="#1271b8"/><text x="172.5" y="1274.0" font-size="15.5" fill="#1271b8" stroke="#1271b8" stroke-width="0.35" textLength="90.3" lengthAdjust="spacingAndGlyphs">Morale index</text>
<circle cx="148.3" cy="1288.7" r="2.1" fill="#1271b8"/><text x="172.5" y="1293.9" font-size="15.5" fill="#1271b8" stroke="#1271b8" stroke-width="0.35" textLength="347.1" lengthAdjust="spacingAndGlyphs">Measurement of response measures’ effectiveness</text>
<circle cx="148.3" cy="1358.0" r="2.1" fill="#1271b8"/><text x="172.5" y="1363.2" font-size="15.5" fill="#1271b8" stroke="#1271b8" stroke-width="0.35" textLength="189.3" lengthAdjust="spacingAndGlyphs">Relief for local medical staff</text>
<circle cx="148.3" cy="1377.8" r="2.1" fill="#1271b8"/><text x="172.5" y="1383.0" font-size="15.5" fill="#1271b8" stroke="#1271b8" stroke-width="0.35" textLength="318.8" lengthAdjust="spacingAndGlyphs">Info on daily availability &amp; load of medical staff</text>
<circle cx="148.3" cy="1398.3" r="2.1" fill="#1271b8"/><text x="172.5" y="1403.5" font-size="15.5" fill="#1271b8" stroke="#1271b8" stroke-width="0.35" textLength="402.2" lengthAdjust="spacingAndGlyphs">Simplification of medical personnel's’ reporting obligations</text>
<circle cx="516.7" cy="100" r="22.7" fill="#fff" stroke="#0879c0" stroke-width="4.6"/>
<use href="#g_smile" transform="translate(516.7,100)"/>
<circle cx="572.2" cy="101.2" r="22.7" fill="#fff" stroke="#0879c0" stroke-width="4.6"/>
<use href="#g_info" transform="translate(572.2,101.2)"/>
<circle cx="629" cy="98.5" r="22.7" fill="#fff" stroke="#0879c0" stroke-width="4.6"/>
<use href="#g_loc" transform="translate(629,98.5)"/>
<circle cx="663.5" cy="190.3" r="22.7" fill="#fff" stroke="#0879c0" stroke-width="4.6"/>
<use href="#g_heart" transform="translate(663.5,190.3)"/>
<circle cx="513.4" cy="231" r="22.7" fill="#fff" stroke="#0879c0" stroke-width="4.6"/>
<use href="#g_smile" transform="translate(513.4,231)"/>
<circle cx="568.8" cy="232" r="22.7" fill="#fff" stroke="#0879c0" stroke-width="4.6"/>
<use href="#g_info" transform="translate(568.8,232)"/>
<circle cx="626.3" cy="229" r="22.7" fill="#fff" stroke="#0879c0" stroke-width="4.6"/>
<use href="#g_loc" transform="translate(626.3,229)"/>
<circle cx="409.7" cy="360.3" r="22.7" fill="#fff" stroke="#0879c0" stroke-width="4.6"/>
<use href="#g_smile" transform="translate(409.7,360.3)"/>
<circle cx="464" cy="360.5" r="22.7" fill="#fff" stroke="#0879c0" stroke-width="4.6"/>
<use href="#g_nurse" transform="translate(464,360.5)"/>
<circle cx="518.4" cy="360.5" r="22.7" fill="#fff" stroke="#0879c0" stroke-width="4.6"/>
<use href="#g_amb" transform="translate(518.4,360.5)"/>
<circle cx="572" cy="360.5" r="22.7" fill="#fff" stroke="#0879c0" stroke-width="4.6"/>
<use href="#g_bed" transform="translate(572,360.5)"/>
<circle cx="626" cy="361" r="22.7" fill="#fff" stroke="#0879c0" stroke-width="4.6"/>
<use href="#g_loc" transform="translate(626,361)"/>
<circle cx="506.9" cy="490" r="22.7" fill="#fff" stroke="#0879c0" stroke-width="4.6"/>
<use href="#g_smile" transform="translate(506.9,490)"/>
<circle cx="560.7" cy="490.5" r="22.7" fill="#fff" stroke="#0879c0" stroke-width="4.6"/>
<use href="#g_nurse" transform="translate(560.7,490.5)"/>
<circle cx="615.2" cy="491.8" r="22.7" fill="#fff" stroke="#0879c0" stroke-width="4.6"/>
<use href="#g_card" transform="translate(615.2,491.8)"/>
<circle cx="453.6" cy="619" r="22.7" fill="#fff" stroke="#0879c0" stroke-width="4.6"/>
<use href="#g_smile" transform="translate(453.6,619)"/>
<circle cx="506.9" cy="619.5" r="22.7" fill="#fff" stroke="#0879c0" stroke-width="4.6"/>
<use href="#g_info" transform="translate(506.9,619.5)"/>
<circle cx="561.7" cy="619.5" r="22.7" fill="#fff" stroke="#0879c0" stroke-width="4.6"/>
<use href="#g_24" transform="translate(561.7,619.5)"/>
<circle cx="615.4" cy="620" r="22.7" fill="#fff" stroke="#0879c0" stroke-width="4.6"/>
<use href="#g_nurse" transform="translate(615.4,620)"/>
<circle cx="438.7" cy="749" r="22.7" fill="#fff" stroke="#0879c0" stroke-width="4.6"/>
<use href="#g_smile" transform="translate(438.7,749)"/>
<circle cx="494" cy="749.5" r="22.7" fill="#fff" stroke="#0879c0" stroke-width="4.6"/>
<use href="#g_info" transform="translate(494,749.5)"/>
<circle cx="551" cy="749.5" r="22.7" fill="#fff" stroke="#0879c0" stroke-width="4.6"/>
<use href="#g_loc" transform="translate(551,749.5)"/>
<circle cx="608.4" cy="750" r="22.7" fill="#fff" stroke="#0879c0" stroke-width="4.6"/>
<use href="#g_euro" transform="translate(608.4,750)"/>
<circle cx="55.8" cy="51.6" r="44.3" fill="#fff" stroke="#0879c0" stroke-width="7.4"/>
<use href="#ic_info" transform="translate(55.8,51.6) scale(0.6)"/>
<circle cx="55.8" cy="180.3" r="44.3" fill="#fff" stroke="#0879c0" stroke-width="7.4"/>
<use href="#ic_quest" transform="translate(55.8,180.3) scale(0.6)"/>
<circle cx="54.8" cy="309.6" r="44.3" fill="#fff" stroke="#0879c0" stroke-width="7.4"/>
<use href="#ic_call" transform="translate(54.8,309.6) scale(0.6)"/>
<circle cx="54.2" cy="441.8" r="44.3" fill="#fff" stroke="#0879c0" stroke-width="7.4"/>
<use href="#ic_au" transform="translate(54.2,441.8) scale(0.6)"/>
<circle cx="53.8" cy="571" r="44.3" fill="#fff" stroke="#0879c0" stroke-width="7.4"/>
<use href="#ic_chat" transform="translate(53.8,571) scale(0.6)"/>
<circle cx="54.2" cy="701.4" r="44.3" fill="#fff" stroke="#0879c0" stroke-width="7.4"/>
<use href="#ic_fin" transform="translate(54.2,701.4) scale(0.6)"/>
<circle cx="55.9" cy="876.4" r="45.8" fill="url(#innersh)" stroke="#0879c0" stroke-width="8.4"/>
<g filter="url(#smsh)"><path d="M41.2,846.3 L43.3,845.4 L45.7,847.1 L49.0,848.3 L52.3,850.4 L55.5,851.2 L57.2,849.9 L56.8,853.2 L55.5,854.8 L59.6,852.8 L63.7,851.2 L67.0,849.1 L69.4,848.3 L71.1,849.9 L72.7,854.0 L73.5,859.7 L74.7,864.6 L75.1,869.6 L77.2,873.6 L79.2,876.1 L77.2,879.4 L73.5,879.8 L68.6,881.0 L63.7,883.4 L62.1,884.3 L63.7,888.3 L65.3,890.8 L68.6,892.4 L71.9,895.7 L69.4,899.0 L66.2,901.4 L66.2,906.3 L60.4,904.7 L55.5,906.3 L52.3,907.9 L47.4,906.3 L41.6,905.5 L37.6,906.7 L38.0,900.6 L40.0,896.5 L40.8,894.1 L35.9,892.4 L31.8,890.0 L30.2,884.3 L29.4,877.7 L28.6,872.0 L30.2,870.4 L32.7,867.9 L33.5,863.0 L34.3,858.1 L35.1,855.7 L37.6,855.7 L40.0,857.3 L42.5,858.1 L45.7,856.5 L48.6,857.1 L44.1,853.2 L42.5,849.9Z" fill="#fff" stroke="#0879c0" stroke-width="2" stroke-linejoin="round"/></g>
<rect x="43.9" y="863.6999999999999" width="17" height="16" fill="#fff" stroke="#0879c0" stroke-width="1.8"/><path d="M45.9,871.6999999999999 h3 l1.5,-4 l2,8 l1.5,-5 l1,1 h3" fill="none" stroke="#0879c0" stroke-width="1"/><path d="M62.9,888.6999999999999 l-6,-6 a3.4,3.4 0 0 1 6,-4 a3.4,3.4 0 0 1 6,4 z" fill="#0879c0"/>
<circle cx="55.9" cy="1002" r="45.8" fill="url(#innersh)" stroke="#0879c0" stroke-width="8.4"/>
<g filter="url(#smsh)"><path d="M41.2,971.9 L43.3,971.0 L45.7,972.7 L49.0,973.9 L52.3,976.0 L55.5,976.8 L57.2,975.5 L56.8,978.8 L55.5,980.4 L59.6,978.4 L63.7,976.8 L67.0,974.7 L69.4,973.9 L71.1,975.5 L72.7,979.6 L73.5,985.3 L74.7,990.2 L75.1,995.2 L77.2,999.2 L79.2,1001.7 L77.2,1005.0 L73.5,1005.4 L68.6,1006.6 L63.7,1009.0 L62.1,1009.9 L63.7,1013.9 L65.3,1016.4 L68.6,1018.0 L71.9,1021.3 L69.4,1024.6 L66.2,1027.0 L66.2,1031.9 L60.4,1030.3 L55.5,1031.9 L52.3,1033.5 L47.4,1031.9 L41.6,1031.1 L37.6,1032.3 L38.0,1026.2 L40.0,1022.1 L40.8,1019.7 L35.9,1018.0 L31.8,1015.6 L30.2,1009.9 L29.4,1003.3 L28.6,997.6 L30.2,996.0 L32.7,993.5 L33.5,988.6 L34.3,983.7 L35.1,981.3 L37.6,981.3 L40.0,982.9 L42.5,983.7 L45.7,982.1 L48.6,982.7 L44.1,978.8 L42.5,975.5Z" fill="#fff" stroke="#0879c0" stroke-width="2" stroke-linejoin="round"/></g>
<path d="M43.9,1008.3 l-5,-8 a6,6 0 1 1 10,0 z" fill="#fff" stroke="#0879c0" stroke-width="1.3"/><path d="M59.9,999.3 l-3.5,-6 a4.3,4.3 0 1 1 7,0 z" fill="#fff" stroke="#0879c0" stroke-width="1.2"/><path d="M45.9,1010.3 l13,-2 l-8,-3 l11,-3" fill="none" stroke="#0879c0" stroke-width="1.6"/>
<circle cx="53.7" cy="1128" r="45.8" fill="url(#innersh)" stroke="#0879c0" stroke-width="8.4"/>
<g filter="url(#smsh)"><path d="M39.0,1097.9 L41.1,1097.0 L43.5,1098.7 L46.8,1099.9 L50.1,1102.0 L53.3,1102.8 L55.0,1101.5 L54.6,1104.8 L53.3,1106.4 L57.4,1104.4 L61.5,1102.8 L64.8,1100.7 L67.2,1099.9 L68.9,1101.5 L70.5,1105.6 L71.3,1111.3 L72.5,1116.2 L72.9,1121.2 L75.0,1125.2 L77.0,1127.7 L75.0,1131.0 L71.3,1131.4 L66.4,1132.6 L61.5,1135.0 L59.9,1135.9 L61.5,1139.9 L63.1,1142.4 L66.4,1144.0 L69.7,1147.3 L67.2,1150.6 L64.0,1153.0 L64.0,1157.9 L58.2,1156.3 L53.3,1157.9 L50.1,1159.5 L45.2,1157.9 L39.4,1157.1 L35.4,1158.3 L35.8,1152.2 L37.8,1148.1 L38.6,1145.7 L33.7,1144.0 L29.6,1141.6 L28.0,1135.9 L27.2,1129.3 L26.4,1123.6 L28.0,1122.0 L30.5,1119.5 L31.3,1114.6 L32.1,1109.7 L32.9,1107.3 L35.4,1107.3 L37.8,1108.9 L40.3,1109.7 L43.5,1108.1 L46.4,1108.7 L41.9,1104.8 L40.3,1101.5Z" fill="#fff" stroke="#0879c0" stroke-width="2" stroke-linejoin="round"/></g>
<rect x="46.7" y="1112.3" width="9" height="9" fill="#fff" stroke="#0879c0" stroke-width="1.4"/><path d="M48.7,1114.3 v5 M53.7,1114.3 v5 M48.7,1116.8 h5" stroke="#0879c0" stroke-width="1.3"/><path d="M38.7,1123.3 v10 M62.7,1127.3 v6" stroke="#0879c0" stroke-width="2"/><rect x="38.7" y="1128.8" width="24" height="2.8" fill="#0879c0"/>
<circle cx="52.1" cy="1257" r="45.8" fill="url(#innersh)" stroke="#0879c0" stroke-width="8.4"/>
<g filter="url(#smsh)"><path d="M37.4,1226.9 L39.5,1226.0 L41.9,1227.7 L45.2,1228.9 L48.5,1231.0 L51.7,1231.8 L53.4,1230.5 L53.0,1233.8 L51.7,1235.4 L55.8,1233.4 L59.9,1231.8 L63.2,1229.7 L65.6,1228.9 L67.3,1230.5 L68.9,1234.6 L69.7,1240.3 L70.9,1245.2 L71.3,1250.2 L73.4,1254.2 L75.4,1256.7 L73.4,1260.0 L69.7,1260.4 L64.8,1261.6 L59.9,1264.0 L58.3,1264.9 L59.9,1268.9 L61.5,1271.4 L64.8,1273.0 L68.1,1276.3 L65.6,1279.6 L62.4,1282.0 L62.4,1286.9 L56.6,1285.3 L51.7,1286.9 L48.5,1288.5 L43.6,1286.9 L37.8,1286.1 L33.8,1287.3 L34.2,1281.2 L36.2,1277.1 L37.0,1274.7 L32.1,1273.0 L28.0,1270.6 L26.4,1264.9 L25.6,1258.3 L24.8,1252.6 L26.4,1251.0 L28.9,1248.5 L29.7,1243.6 L30.5,1238.7 L31.3,1236.3 L33.8,1236.3 L36.2,1237.9 L38.7,1238.7 L41.9,1237.1 L44.8,1237.7 L40.3,1233.8 L38.7,1230.5Z" fill="#fff" stroke="#0879c0" stroke-width="2" stroke-linejoin="round"/></g>
<circle cx="47.5" cy="1256.3999999999999" r="13" fill="#0879c0"/><circle cx="43.300000000000004" cy="1252.8" r="2.1" fill="#fff"/><circle cx="51.7" cy="1252.8" r="2.1" fill="#fff"/><path d="M43.1,1260.8 q4.4,3.5 8.8,0 z" fill="#fff"/>
<circle cx="53.5" cy="1377" r="45.8" fill="url(#innersh)" stroke="#0879c0" stroke-width="8.4"/>
<g filter="url(#smsh)"><path d="M38.8,1346.9 L40.9,1346.0 L43.3,1347.7 L46.6,1348.9 L49.9,1351.0 L53.1,1351.8 L54.8,1350.5 L54.4,1353.8 L53.1,1355.4 L57.2,1353.4 L61.3,1351.8 L64.6,1349.7 L67.0,1348.9 L68.7,1350.5 L70.3,1354.6 L71.1,1360.3 L72.3,1365.2 L72.7,1370.2 L74.8,1374.2 L76.8,1376.7 L74.8,1380.0 L71.1,1380.4 L66.2,1381.6 L61.3,1384.0 L59.7,1384.9 L61.3,1388.9 L62.9,1391.4 L66.2,1393.0 L69.5,1396.3 L67.0,1399.6 L63.8,1402.0 L63.8,1406.9 L58.0,1405.3 L53.1,1406.9 L49.9,1408.5 L45.0,1406.9 L39.2,1406.1 L35.2,1407.3 L35.6,1401.2 L37.6,1397.1 L38.4,1394.7 L33.5,1393.0 L29.4,1390.6 L27.8,1384.9 L27.0,1378.3 L26.2,1372.6 L27.8,1371.0 L30.3,1368.5 L31.1,1363.6 L31.9,1358.7 L32.7,1356.3 L35.2,1356.3 L37.6,1357.9 L40.1,1358.7 L43.3,1357.1 L46.2,1357.7 L41.7,1353.8 L40.1,1350.5Z" fill="#fff" stroke="#0879c0" stroke-width="2" stroke-linejoin="round"/></g>
<circle cx="50.5" cy="1363.3" r="2.8" fill="#fff" stroke="#0879c0" stroke-width="1"/><path d="M46.0,1371.3 q0,-4.5 4.5,-4.5 q4.5,0 4.5,4.5 z" fill="#0879c0"/><circle cx="41.5" cy="1378.3" r="2.8" fill="#fff" stroke="#0879c0" stroke-width="1"/><path d="M37.0,1386.3 q0,-4.5 4.5,-4.5 q4.5,0 4.5,4.5 z" fill="#0879c0"/><circle cx="59.5" cy="1378.3" r="2.8" fill="#fff" stroke="#0879c0" stroke-width="1"/><path d="M55.0,1386.3 q0,-4.5 4.5,-4.5 q4.5,0 4.5,4.5 z" fill="#0879c0"/><circle cx="50.5" cy="1377.3" r="2.2" fill="none" stroke="#0879c0" stroke-width="1"/>
<rect x="706.5" y="2" width="129.5" height="732" rx="22" fill="#0a77bf" stroke="#2f4a8a" stroke-width="1"/>
<rect x="706.5" y="819" width="129.5" height="608.5" rx="22" fill="#0a77bf" stroke="#2f4a8a" stroke-width="1"/>
<text transform="translate(790.2,568.5) rotate(-90)" font-family="Liberation Sans" font-weight="bold" font-size="51" fill="#fff" textLength="399.0" lengthAdjust="spacingAndGlyphs">Citizens / Population</text>
<text transform="translate(761.2,1252.5) rotate(-90)" font-family="Liberation Sans" font-weight="bold" font-size="51" fill="#fff" textLength="258.5" lengthAdjust="spacingAndGlyphs">Authorities &amp;</text>
<text transform="translate(821.2,1305.5) rotate(-90)" font-family="Liberation Sans" font-weight="bold" font-size="51" fill="#fff" textLength="366.0" lengthAdjust="spacingAndGlyphs">Healthcare System</text>
<text x="1254.1" y="77.0" font-weight="bold" font-size="24.7" fill="#0b72ba" textLength="127.9" lengthAdjust="spacingAndGlyphs">E-Callback</text>
<text x="1517.7" y="77.0" font-weight="bold" font-size="24.7" fill="#0b72ba" textLength="189.9" lengthAdjust="spacingAndGlyphs">7-day sick leave</text>
<text x="1015.7" y="224.8" font-weight="bold" font-size="24.7" fill="#0b72ba" textLength="173.2" lengthAdjust="spacingAndGlyphs">Questionnaire,</text>
<text x="1053.2" y="254.4" font-weight="bold" font-size="24.7" fill="#0b72ba" textLength="98.2" lengthAdjust="spacingAndGlyphs">status &amp;</text>
<text x="1032.2" y="284.2" font-weight="bold" font-size="24.7" fill="#0b72ba" textLength="140.2" lengthAdjust="spacingAndGlyphs">instructions</text>
<text x="1798.6" y="250.1" font-weight="bold" font-size="24.7" fill="#0b72ba" textLength="81.4" lengthAdjust="spacingAndGlyphs">Citizen</text>
<text x="1747.3" y="280.2" font-weight="bold" font-size="24.7" fill="#0b72ba" textLength="182.7" lengthAdjust="spacingAndGlyphs">communication</text>
<text x="950.4" y="477.8" font-weight="bold" font-size="24.7" fill="#0b72ba" textLength="127.3" lengthAdjust="spacingAndGlyphs">Info centre</text>
<text x="1848.7" y="480.8" font-weight="bold" font-size="24.7" fill="#0b72ba" textLength="151.3" lengthAdjust="spacingAndGlyphs">Financial aid</text>
<text x="864.3" y="838.8" font-weight="bold" font-size="24.7" fill="#0b72ba" textLength="186.8" lengthAdjust="spacingAndGlyphs">Steering people</text>
<text x="1116.0" y="1002.7" font-weight="bold" font-size="24.7" fill="#0b72ba" textLength="151.9" lengthAdjust="spacingAndGlyphs">Medical staff</text>
<text x="1365.0" y="1085.4" font-weight="bold" font-size="24.7" fill="#0b72ba" textLength="213.4" lengthAdjust="spacingAndGlyphs">Capacity planning</text>
<text x="1601.9" y="1012.3" font-weight="bold" font-size="24.7" fill="#0b72ba" textLength="224.8" lengthAdjust="spacingAndGlyphs">Mood thermometer</text>
<text x="1864.6" y="864.2" font-weight="bold" font-size="24.7" fill="#0b72ba" textLength="155.1" lengthAdjust="spacingAndGlyphs">Health status</text>
<circle cx="1317.7" cy="168.5" r="71.3" fill="none" stroke="#0879c0" stroke-width="13.4"/>
<use href="#ic_call" transform="translate(1317.7,168.5)"/>
<circle cx="1621.7" cy="172.0" r="71.3" fill="none" stroke="#0879c0" stroke-width="13.4"/>
<use href="#ic_au" transform="translate(1621.7,172.0)"/>
<circle cx="1102.0" cy="373.0" r="71.3" fill="none" stroke="#0879c0" stroke-width="13.4"/>
<use href="#ic_quest" transform="translate(1102.0,373.0)"/>
<circle cx="1840.9" cy="372.2" r="71.3" fill="none" stroke="#0879c0" stroke-width="13.4"/>
<use href="#ic_chat" transform="translate(1840.9,372.2)"/>
<circle cx="1015.0" cy="577.2" r="71.3" fill="none" stroke="#0879c0" stroke-width="13.4"/>
<use href="#ic_info" transform="translate(1015.0,577.2)"/>
<circle cx="1923.7" cy="577.0" r="71.3" fill="none" stroke="#0879c0" stroke-width="13.4"/>
<use href="#ic_fin" transform="translate(1923.7,577.0)"/>
<ellipse cx="1262" cy="808" rx="66" ry="58" fill="#0879c0" stroke="#0879c0" stroke-width="24"/>
<circle cx="1339" cy="725" r="52" fill="#0879c0" stroke="#0879c0" stroke-width="24"/>
<circle cx="1468" cy="687" r="81" fill="#0879c0" stroke="#0879c0" stroke-width="24"/>
<circle cx="1591" cy="720" r="46" fill="#0879c0" stroke="#0879c0" stroke-width="24"/>
<circle cx="1650" cy="795" r="64" fill="#0879c0" stroke="#0879c0" stroke-width="24"/>
<ellipse cx="1400" cy="821" rx="94" ry="75" fill="#0879c0" stroke="#0879c0" stroke-width="24"/>
<circle cx="1530" cy="800" r="86" fill="#0879c0" stroke="#0879c0" stroke-width="24"/>
<ellipse cx="1262" cy="808" rx="66" ry="58" fill="#fff"/>
<circle cx="1339" cy="725" r="52" fill="#fff"/>
<circle cx="1468" cy="687" r="81" fill="#fff"/>
<circle cx="1591" cy="720" r="46" fill="#fff"/>
<circle cx="1650" cy="795" r="64" fill="#fff"/>
<ellipse cx="1400" cy="821" rx="94" ry="75" fill="#fff"/>
<circle cx="1530" cy="800" r="86" fill="#fff"/>
<path d="M1262,808 L1339,725 L1468,687 L1591,720 L1650,795 L1530,800 L1400,821 Z" fill="#fff"/>
<path d="M1279,742 Q1281,754 1287,762" fill="none" stroke="#0879c0" stroke-width="12" stroke-linecap="round"/>
<path d="M1379,674 Q1381,681 1381,688" fill="none" stroke="#0879c0" stroke-width="12" stroke-linecap="round"/>
<path d="M1557,668 Q1560,680 1560,689" fill="none" stroke="#0879c0" stroke-width="12" stroke-linecap="round"/>
<path d="M1647,731 Q1643,742 1637.5,751" fill="none" stroke="#0879c0" stroke-width="12" stroke-linecap="round"/>
<path d="M1307,862 Q1308,852 1311.5,846" fill="none" stroke="#0879c0" stroke-width="12" stroke-linecap="round"/>
<path d="M1604,858 Q1601,846 1602.5,834" fill="none" stroke="#0879c0" stroke-width="12" stroke-linecap="round"/>
<path d="M1400.3,473.8 H1534.2 a12,12 0 0 1 12,12 V730.8 a12,12 0 0 1 -12,12 H1400.3 a12,12 0 0 1 -12,-12 V485.8 a12,12 0 0 1 12,-12 Z M1401.5,500 V697 H1533.2 V500 Z" fill="#0879c0" fill-rule="evenodd"/>
<circle cx="1467.3" cy="720" r="9.8" fill="#fff"/>
<path d="M1447.2,651 V636 a20,20 0 0 1 40,0 V651" fill="none" stroke="#0879c0" stroke-width="10"/>
<path d="M1436.1,650.2 H1500.2 V685.6 a8,8 0 0 1 -8,8 H1444.1 a8,8 0 0 1 -8,-8 Z" fill="#0879c0"/>
<circle cx="1467.3" cy="667.3" r="7.3" fill="#fff"/>
<path d="M1467.3,668 V680.5" stroke="#fff" stroke-width="6.5" stroke-linecap="round"/>
<path d="M1317.7,247.0 L1317.7,373.0 L1441.4,373.0 L1441.4,505.0" fill="none" stroke="#92d050" stroke-width="5.5" stroke-dasharray="13.5 6.5"/>
<path d="M1180.0,373.0 L1297.5,373.0 L1297.5,575.8 L1422.0,575.8" fill="none" stroke="#92d050" stroke-width="5.5" stroke-dasharray="13.5 6.5"/>
<path d="M1621.6,250.0 L1621.6,387.5 L1465.3,387.5 L1465.3,532.0" fill="none" stroke="#92d050" stroke-width="5.5" stroke-dasharray="13.5 6.5"/>
<path d="M1015.0,655.0 L1015.0,686.5 L1253.8,686.5 L1253.8,537.3 L1423.0,537.3" fill="none" stroke="#92d050" stroke-width="5.5" stroke-dasharray="13.5 6.5"/>
<path d="M1762.7,372.0 L1645.3,372.0 L1645.3,530.6 L1505.0,530.6" fill="none" stroke="#92d050" stroke-width="5.5" stroke-dasharray="13.5 6.5"/>
<path d="M1923.7,655.0 L1923.7,686.5 L1676.2,686.5 L1676.2,578.9 L1491.0,578.9" fill="none" stroke="#92d050" stroke-width="5.5" stroke-dasharray="13.5 6.5"/>
<circle cx="1441.3" cy="514.6" r="10.9" fill="#92d050"/>
<circle cx="1429.7" cy="537.0" r="8.2" fill="#92d050"/>
<circle cx="1465.2" cy="545.0" r="13.9" fill="#92d050"/>
<circle cx="1504.8" cy="530.3" r="15.9" fill="#92d050"/>
<circle cx="1434.3" cy="575.0" r="13.8" fill="#92d050"/>
<circle cx="1490.7" cy="579.0" r="8.5" fill="#92d050"/>
<path id="gxarc" d="M1333,932 A137,137 0 0 1 1607,932" fill="none"/>
<g filter="url(#txsh)"><text font-size="50" fill="#0879c0"><textPath href="#gxarc" startOffset="127">Gaia-</textPath></text><path d="M1522.5,768 L1526.8,812.5" stroke="#0879c0" stroke-width="3.8"/><path d="M1502.5,797.5 L1545,781.5" stroke="#0879c0" stroke-width="4.2"/></g>
<path d="M864.1,877.9 H1035.4 a8,8 0 0 1 8,8 V1009.6 a8,8 0 0 1 -8,8 H864.1 a8,8 0 0 1 -8,-8 V885.9 a8,8 0 0 1 8,-8 Z M868.8,890.5 V992.0 H1032.9 V890.5 Z" fill="#0879c0" fill-rule="evenodd"/>
<rect x="868.8" y="890.5" width="164.1" height="101.5" fill="#fff"/>
<path d="M924.7,1016.6 H977.7 V1033.1 L990.7,1047.1 H911.7 L924.7,1033.1 Z" fill="#0879c0"/>
<g filter="url(#smsh)"><path d="M931.8,893.1 L934.9,891.9 L938.6,894.4 L943.5,896.2 L948.5,899.4 L953.5,900.6 L956.0,898.7 L955.3,903.7 L953.5,906.2 L959.7,903.1 L965.9,900.6 L970.9,897.5 L974.6,896.2 L977.1,898.7 L979.6,904.9 L980.8,913.6 L982.7,921.1 L983.3,928.5 L986.4,934.7 L989.5,938.5 L986.4,943.4 L980.8,944.1 L973.4,945.9 L965.9,949.6 L963.4,950.9 L965.9,957.1 L968.4,960.8 L973.4,963.3 L978.3,968.3 L974.6,973.2 L969.6,977.0 L969.6,984.4 L960.9,981.9 L953.5,984.4 L948.5,986.9 L941.1,984.4 L932.4,983.2 L926.2,985.0 L926.8,975.7 L929.9,969.5 L931.1,965.8 L923.7,963.3 L917.5,959.6 L915.0,950.9 L913.7,941.0 L912.5,932.3 L915.0,929.8 L918.7,926.1 L920.0,918.6 L921.2,911.1 L922.4,907.4 L926.2,907.4 L929.9,909.9 L933.6,911.1 L938.6,908.7 L942.9,909.7 L936.1,903.7 L933.6,898.7Z" fill="#fff" stroke="#92d050" stroke-width="2.4" stroke-linejoin="round"/></g>
<use href="#pins" transform="translate(951.0,939.4)"/>
<path d="M1097.5,1023.4 H1268.5 a8,8 0 0 1 8,8 V1156.6 a8,8 0 0 1 -8,8 H1097.5 a8,8 0 0 1 -8,-8 V1031.4 a8,8 0 0 1 8,-8 Z M1102.2,1036.0 V1139.0 H1266.0 V1036.0 Z" fill="#0879c0" fill-rule="evenodd"/>
<rect x="1102.2" y="1036.0" width="163.8" height="103.0" fill="#fff"/>
<path d="M1157.9,1163.6 H1210.9 V1180.1 L1223.9,1194.1 H1144.9 L1157.9,1180.1 Z" fill="#0879c0"/>
<g filter="url(#smsh)"><path d="M1169.3,1038.7 L1172.4,1037.5 L1176.1,1040.0 L1181.0,1041.8 L1186.0,1045.0 L1191.0,1046.2 L1193.5,1044.3 L1192.8,1049.3 L1191.0,1051.8 L1197.2,1048.7 L1203.4,1046.2 L1208.4,1043.1 L1212.1,1041.8 L1214.6,1044.3 L1217.1,1050.5 L1218.3,1059.2 L1220.2,1066.7 L1220.8,1074.1 L1223.9,1080.3 L1227.0,1084.1 L1223.9,1089.0 L1218.3,1089.7 L1210.9,1091.5 L1203.4,1095.2 L1200.9,1096.5 L1203.4,1102.7 L1205.9,1106.4 L1210.9,1108.9 L1215.8,1113.9 L1212.1,1118.8 L1207.1,1122.6 L1207.1,1130.0 L1198.4,1127.5 L1191.0,1130.0 L1186.0,1132.5 L1178.6,1130.0 L1169.9,1128.8 L1163.7,1130.6 L1164.3,1121.3 L1167.4,1115.1 L1168.6,1111.4 L1161.2,1108.9 L1155.0,1105.2 L1152.5,1096.5 L1151.2,1086.6 L1150.0,1077.9 L1152.5,1075.4 L1156.2,1071.7 L1157.5,1064.2 L1158.7,1056.7 L1159.9,1053.0 L1163.7,1053.0 L1167.4,1055.5 L1171.1,1056.7 L1176.1,1054.3 L1180.4,1055.3 L1173.6,1049.3 L1171.1,1044.3Z" fill="#fff" stroke="#92d050" stroke-width="2.4" stroke-linejoin="round"/></g>
<ellipse cx="1182.5" cy="1065.0" rx="4.3" ry="5.2" fill="#fff" stroke="#92d050" stroke-width="1.4"/><path d="M1174.5,1080.0 q0,-8 8,-8 q8,0 8,8 z" fill="#92d050"/><path d="M1182.5,1073.0 v6" stroke="#fff" stroke-width="1"/><ellipse cx="1170.5" cy="1087.0" rx="4.3" ry="5.2" fill="#fff" stroke="#92d050" stroke-width="1.4"/><path d="M1162.5,1102.0 q0,-8 8,-8 q8,0 8,8 z" fill="#92d050"/><path d="M1170.5,1095.0 v6" stroke="#fff" stroke-width="1"/><ellipse cx="1196.5" cy="1087.0" rx="4.3" ry="5.2" fill="#fff" stroke="#92d050" stroke-width="1.4"/><path d="M1188.5,1102.0 q0,-8 8,-8 q8,0 8,8 z" fill="#92d050"/><path d="M1196.5,1095.0 v6" stroke="#fff" stroke-width="1"/><circle cx="1183.5" cy="1088.0" r="4" fill="none" stroke="#92d050" stroke-width="1.8"/><path d="M1183.5,1081.0 v3 M1180.0,1090.0 l-4,3 M1187.0,1090.0 l4,3" stroke="#92d050" stroke-width="1.8"/>
<path d="M1381.4,1102.7 H1552.2 a8,8 0 0 1 8,8 V1235.3 a8,8 0 0 1 -8,8 H1381.4 a8,8 0 0 1 -8,-8 V1110.7 a8,8 0 0 1 8,-8 Z M1386.1,1115.3 V1217.7 H1549.7 V1115.3 Z" fill="#0879c0" fill-rule="evenodd"/>
<rect x="1386.1" y="1115.3" width="163.6" height="102.4" fill="#fff"/>
<path d="M1441.7,1242.3 H1494.7 V1258.8 L1507.7,1272.8 H1428.7 L1441.7,1258.8 Z" fill="#0879c0"/>
<g filter="url(#smsh)"><path d="M1448.0,1119.2 L1451.1,1118.0 L1454.8,1120.5 L1459.7,1122.3 L1464.7,1125.5 L1469.7,1126.7 L1472.2,1124.8 L1471.5,1129.8 L1469.7,1132.3 L1475.9,1129.2 L1482.1,1126.7 L1487.1,1123.6 L1490.8,1122.3 L1493.3,1124.8 L1495.8,1131.0 L1497.0,1139.7 L1498.9,1147.2 L1499.5,1154.6 L1502.6,1160.8 L1505.7,1164.6 L1502.6,1169.5 L1497.0,1170.2 L1489.6,1172.0 L1482.1,1175.7 L1479.6,1177.0 L1482.1,1183.2 L1484.6,1186.9 L1489.6,1189.4 L1494.5,1194.4 L1490.8,1199.3 L1485.8,1203.1 L1485.8,1210.5 L1477.1,1208.0 L1469.7,1210.5 L1464.7,1213.0 L1457.3,1210.5 L1448.6,1209.3 L1442.4,1211.1 L1443.0,1201.8 L1446.1,1195.6 L1447.3,1191.9 L1439.9,1189.4 L1433.7,1185.7 L1431.2,1177.0 L1429.9,1167.1 L1428.7,1158.4 L1431.2,1155.9 L1434.9,1152.2 L1436.2,1144.7 L1437.4,1137.2 L1438.6,1133.5 L1442.4,1133.5 L1446.1,1136.0 L1449.8,1137.2 L1454.8,1134.8 L1459.1,1135.8 L1452.3,1129.8 L1449.8,1124.8Z" fill="#fff" stroke="#92d050" stroke-width="2.4" stroke-linejoin="round"/></g>
<rect x="1454.2" y="1132.5" width="19" height="19" rx="2" fill="#fff" stroke="#92d050" stroke-width="2.4"/><path d="M1458.7,1136.5 v11 M1468.7,1136.5 v11 M1458.7,1142.0 h10" stroke="#92d050" stroke-width="3"/><path d="M1439.2,1151.5 v25 M1479.2,1160.5 v16" stroke="#92d050" stroke-width="3.5"/><rect x="1439.2" y="1161.5" width="40" height="5.5" fill="#92d050"/><path d="M1441.2,1161.5 q1,-6 7,-5 l10,5 z" fill="#92d050"/>
<path d="M1638.3,1023.8 H1807.9 a8,8 0 0 1 8,8 V1156.4 a8,8 0 0 1 -8,8 H1638.3 a8,8 0 0 1 -8,-8 V1031.8 a8,8 0 0 1 8,-8 Z M1643.0,1036.4 V1138.8 H1805.4 V1036.4 Z" fill="#0879c0" fill-rule="evenodd"/>
<rect x="1643.0" y="1036.4" width="162.4" height="102.4" fill="#fff"/>
<path d="M1698.0,1163.4 H1751.0 V1179.9 L1764.0,1193.9 H1685.0 L1698.0,1179.9 Z" fill="#0879c0"/>
<g filter="url(#smsh)"><path d="M1703.4,1039.0 L1706.5,1037.8 L1710.2,1040.3 L1715.1,1042.1 L1720.1,1045.3 L1725.1,1046.5 L1727.6,1044.6 L1726.9,1049.6 L1725.1,1052.1 L1731.3,1049.0 L1737.5,1046.5 L1742.5,1043.4 L1746.2,1042.1 L1748.7,1044.6 L1751.2,1050.8 L1752.4,1059.5 L1754.3,1067.0 L1754.9,1074.4 L1758.0,1080.6 L1761.1,1084.4 L1758.0,1089.3 L1752.4,1090.0 L1745.0,1091.8 L1737.5,1095.5 L1735.0,1096.8 L1737.5,1103.0 L1740.0,1106.7 L1745.0,1109.2 L1749.9,1114.2 L1746.2,1119.1 L1741.2,1122.9 L1741.2,1130.3 L1732.5,1127.8 L1725.1,1130.3 L1720.1,1132.8 L1712.7,1130.3 L1704.0,1129.1 L1697.8,1130.9 L1698.4,1121.6 L1701.5,1115.4 L1702.7,1111.7 L1695.3,1109.2 L1689.1,1105.5 L1686.6,1096.8 L1685.3,1086.9 L1684.1,1078.2 L1686.6,1075.7 L1690.3,1072.0 L1691.6,1064.5 L1692.8,1057.0 L1694.0,1053.3 L1697.8,1053.3 L1701.5,1055.8 L1705.2,1057.0 L1710.2,1054.6 L1714.5,1055.6 L1707.7,1049.6 L1705.2,1044.6Z" fill="#fff" stroke="#92d050" stroke-width="2.4" stroke-linejoin="round"/></g>
<circle cx="1717.6" cy="1085.8" r="19" fill="#92d050"/><circle cx="1711.6" cy="1080.3" r="3.6" fill="#fff"/><circle cx="1723.6" cy="1080.3" r="3.6" fill="#fff"/><path d="M1710.6,1092.3 q7,5 14,0 z" fill="#fff"/>
<path d="M1854.6,880.0 H2024.7 a8,8 0 0 1 8,8 V1012.5 a8,8 0 0 1 -8,8 H1854.6 a8,8 0 0 1 -8,-8 V888.0 a8,8 0 0 1 8,-8 Z M1859.3,892.6 V994.9 H2022.2 V892.6 Z" fill="#0879c0" fill-rule="evenodd"/>
<rect x="1859.3" y="892.6" width="162.9" height="102.3" fill="#fff"/>
<path d="M1914.5,1019.5 H1967.5 V1036.0 L1980.5,1050.0 H1901.5 L1914.5,1036.0 Z" fill="#0879c0"/>
<g filter="url(#smsh)"><path d="M1921.3,895.2 L1924.4,894.0 L1928.1,896.5 L1933.0,898.3 L1938.0,901.5 L1943.0,902.7 L1945.5,900.8 L1944.8,905.8 L1943.0,908.3 L1949.2,905.2 L1955.4,902.7 L1960.4,899.6 L1964.1,898.3 L1966.6,900.8 L1969.1,907.0 L1970.3,915.7 L1972.2,923.2 L1972.8,930.6 L1975.9,936.8 L1979.0,940.6 L1975.9,945.5 L1970.3,946.2 L1962.9,948.0 L1955.4,951.7 L1952.9,953.0 L1955.4,959.2 L1957.9,962.9 L1962.9,965.4 L1967.8,970.4 L1964.1,975.3 L1959.1,979.1 L1959.1,986.5 L1950.4,984.0 L1943.0,986.5 L1938.0,989.0 L1930.6,986.5 L1921.9,985.3 L1915.7,987.1 L1916.3,977.8 L1919.4,971.6 L1920.6,967.9 L1913.2,965.4 L1907.0,961.7 L1904.5,953.0 L1903.2,943.1 L1902.0,934.4 L1904.5,931.9 L1908.2,928.2 L1909.5,920.7 L1910.7,913.2 L1911.9,909.5 L1915.7,909.5 L1919.4,912.0 L1923.1,913.2 L1928.1,910.8 L1932.4,911.8 L1925.6,905.8 L1923.1,900.8Z" fill="#fff" stroke="#92d050" stroke-width="2.4" stroke-linejoin="round"/></g>
<path d="M1920.5,954.5 V921.5 H1955.5 V942.5 M1920.5,954.5 H1942.5" fill="none" stroke="#92d050" stroke-width="3.4"/><path d="M1925.5,939.5 h6 l3,-8 l3,14 l3,-10 l2,4 h6" fill="none" stroke="#92d050" stroke-width="1.7"/><path d="M1956.5,961.5 l-11.5,-11 a5.8,5.8 0 0 1 11.5,-7.5 a5.8,5.8 0 0 1 11.5,7.5 z" fill="#92d050" stroke="#fff" stroke-width="1.5"/>
<rect x="929.7" y="1056.2" width="39.2" height="37.5" rx="6" fill="#fff" stroke="#0879c0" stroke-width="4"/>
<path d="M937.5,1063 h7 v8.5 h9.5 v-8.5 h7 v23.5 h-7 v-8.5 h-9.5 v8.5 h-7 Z" fill="#0879c0"/>
<rect x="936" y="1095" width="2.4" height="6" fill="#0879c0"/><rect x="960" y="1095" width="2.4" height="6" fill="#0879c0"/>
<rect x="914.7" y="1100.6" width="69.1" height="56.2" fill="#0879c0"/>
<rect x="918.4" y="1105.2" width="12.2" height="10.2" fill="#fff"/>
<rect x="918.4" y="1118.8" width="12.2" height="10.2" fill="#fff"/>
<rect x="918.4" y="1132.3" width="12.2" height="10.2" fill="#fff"/>
<rect x="918.4" y="1145.6" width="12.2" height="10.2" fill="#fff"/>
<rect x="934.2" y="1105.2" width="12.2" height="10.2" fill="#fff"/>
<rect x="934.2" y="1118.8" width="12.2" height="10.2" fill="#fff"/>
<rect x="934.2" y="1132.3" width="12.2" height="10.2" fill="#fff"/>
<rect x="934.2" y="1145.6" width="12.2" height="10.2" fill="#fff"/>
<rect x="950.1" y="1105.2" width="12.2" height="10.2" fill="#fff"/>
<rect x="950.1" y="1118.8" width="12.2" height="10.2" fill="#fff"/>
<rect x="950.1" y="1132.3" width="12.2" height="10.2" fill="#fff"/>
<rect x="950.1" y="1145.6" width="12.2" height="10.2" fill="#fff"/>
<rect x="966.0" y="1105.2" width="12.2" height="10.2" fill="#fff"/>
<rect x="966.0" y="1118.8" width="12.2" height="10.2" fill="#fff"/>
<rect x="966.0" y="1132.3" width="12.2" height="10.2" fill="#fff"/>
<rect x="966.0" y="1145.6" width="12.2" height="10.2" fill="#fff"/>
<rect x="896.4" y="1118.2" width="19" height="38.6" fill="#0879c0"/>
<rect x="983" y="1118.2" width="18" height="38.6" fill="#0879c0"/>
<rect x="899" y="1122.5" width="4" height="4.5" fill="#fff"/><rect x="906" y="1122.5" width="6.5" height="4.5" fill="#fff"/>
<rect x="986" y="1122.5" width="6.5" height="4.5" fill="#fff"/><rect x="995" y="1122.5" width="4" height="4.5" fill="#fff"/>
<rect x="899" y="1131.5" width="4" height="4.5" fill="#fff"/><rect x="906" y="1131.5" width="6.5" height="4.5" fill="#fff"/>
<rect x="986" y="1131.5" width="6.5" height="4.5" fill="#fff"/><rect x="995" y="1131.5" width="4" height="4.5" fill="#fff"/>
<rect x="899" y="1140.5" width="4" height="4.5" fill="#fff"/><rect x="906" y="1140.5" width="6.5" height="4.5" fill="#fff"/>
<rect x="986" y="1140.5" width="6.5" height="4.5" fill="#fff"/><rect x="995" y="1140.5" width="4" height="4.5" fill="#fff"/>
<rect x="899" y="1149.5" width="4" height="4.5" fill="#fff"/><rect x="906" y="1149.5" width="6.5" height="4.5" fill="#fff"/>
<rect x="986" y="1149.5" width="6.5" height="4.5" fill="#fff"/><rect x="995" y="1149.5" width="4" height="4.5" fill="#fff"/>
<path d="M1132.7,1229 V1226 a3.5,3.5 0 0 1 3.5,-3.5 H1151.2 V1229 Z" fill="#0879c0"/>
<path d="M1211,1229 V1222.5 H1226 a3.5,3.5 0 0 1 3.5,3.5 V1229 Z" fill="#0879c0"/>
<path d="M1116.8,1308.2 V1237 a6,6 0 0 1 6,-6 H1151.2 V1308.2 Z" fill="#0879c0"/>
<path d="M1211,1308.2 V1231 H1239.4 a6,6 0 0 1 6,6 V1308.2 Z" fill="#0879c0"/>
<path d="M1154,1308.2 V1212.1 a6,6 0 0 1 6,-6 H1202.6 a6,6 0 0 1 6,6 V1308.2 Z" fill="#0879c0"/>
<rect x="1165.9" y="1222.7" width="11" height="10.7" fill="#fff"/>
<rect x="1165.9" y="1240.5" width="11" height="10.7" fill="#fff"/>
<rect x="1165.9" y="1259.5" width="11" height="10.7" fill="#fff"/>
<rect x="1185.6" y="1222.7" width="11" height="10.7" fill="#fff"/>
<rect x="1185.6" y="1240.5" width="11" height="10.7" fill="#fff"/>
<rect x="1185.6" y="1259.5" width="11" height="10.7" fill="#fff"/>
<rect x="1175" y="1284.4" width="13" height="24" fill="#fff"/>
<rect x="1128.6" y="1244" width="10.7" height="10.7" fill="#fff"/>
<rect x="1222.4" y="1244" width="10.7" height="10.7" fill="#fff"/>
<rect x="1128.6" y="1261.9" width="10.7" height="10.7" fill="#fff"/>
<rect x="1222.4" y="1261.9" width="10.7" height="10.7" fill="#fff"/>
<rect x="1128.6" y="1280.9" width="10.7" height="10.7" fill="#fff"/>
<rect x="1222.4" y="1280.9" width="10.7" height="10.7" fill="#fff"/>
<path d="M1466.8,1280.3 L1518.8,1314.3 Q1521.8,1316.3 1520.8,1320.6 H1412.8 Q1411.8,1316.3 1414.8,1314.3 Z" fill="#0879c0"/><circle cx="1466.8" cy="1300.8" r="7" fill="#fff"/><path d="M1419.8,1327.5 H1439.8 Q1443.8,1347.7 1439.8,1367.8999999999999 H1419.8 Q1415.8,1347.7 1419.8,1327.5 Z" fill="#0879c0"/><path d="M1456.8,1327.5 H1476.8 Q1480.8,1347.7 1476.8,1367.8999999999999 H1456.8 Q1452.8,1347.7 1456.8,1327.5 Z" fill="#0879c0"/><path d="M1493.8,1327.5 H1513.8 Q1517.8,1347.7 1513.8,1367.8999999999999 H1493.8 Q1489.8,1347.7 1493.8,1327.5 Z" fill="#0879c0"/><rect x="1412.8" y="1374.8" width="108" height="13.8" rx="6.9" fill="#0879c0"/>
<path d="M1724.4,1198.6 L1776.4,1232.6 Q1779.4,1234.6 1778.4,1238.8999999999999 H1670.4 Q1669.4,1234.6 1672.4,1232.6 Z" fill="#0879c0"/><circle cx="1724.4" cy="1219.1" r="7" fill="#fff"/><path d="M1677.4,1245.8 H1697.4 Q1701.4,1266.0 1697.4,1286.1999999999998 H1677.4 Q1673.4,1266.0 1677.4,1245.8 Z" fill="#0879c0"/><path d="M1714.4,1245.8 H1734.4 Q1738.4,1266.0 1734.4,1286.1999999999998 H1714.4 Q1710.4,1266.0 1714.4,1245.8 Z" fill="#0879c0"/><path d="M1751.4,1245.8 H1771.4 Q1775.4,1266.0 1771.4,1286.1999999999998 H1751.4 Q1747.4,1266.0 1751.4,1245.8 Z" fill="#0879c0"/><rect x="1670.4" y="1293.1" width="108" height="13.8" rx="6.9" fill="#0879c0"/>
<path d="M1943,1058.5 V1076" stroke="#0879c0" stroke-width="2"/>
<path d="M1944,1059.5 h16.6 v9.8 h-16.6 Z" fill="#0879c0"/>
<path d="M1888.1,1110.8 L1903.3,1090 H1925.2 L1942.3,1073 L1959.4,1090 H1982.6 L1996,1110.8 Z" fill="#0879c0"/>
<path d="M1921,1110 L1942.3,1092 L1963.6,1110" fill="none" stroke="#fff" stroke-width="2.2"/>
<path d="M1892.3,1113.3 H1920 L1942.3,1095 L1964.6,1113.3 H1992.4 V1162 H1892.3 Z" fill="#0879c0"/>
<rect x="1888.6" y="1160.9" width="107.4" height="7.3" rx="2" fill="#0879c0"/>
<rect x="1885" y="1170.7" width="114.7" height="8.5" rx="4" fill="#0879c0"/>
<circle cx="1942.3" cy="1118.2" r="10" fill="#fff"/>
<path d="M1942.3,1111.5 V1118.5 L1947,1121" fill="none" stroke="#0879c0" stroke-width="1.6"/>
<rect x="1899.6" y="1123" width="9.2" height="10" rx="1" fill="#fff"/>
<rect x="1899.6" y="1141.5" width="9.2" height="10" rx="1" fill="#fff"/>
<rect x="1914.5" y="1123" width="9.2" height="10" rx="1" fill="#fff"/>
<rect x="1914.5" y="1141.5" width="9.2" height="10" rx="1" fill="#fff"/>
<rect x="1960.6" y="1123" width="9.2" height="10" rx="1" fill="#fff"/>
<rect x="1960.6" y="1141.5" width="9.2" height="10" rx="1" fill="#fff"/>
<rect x="1975.4" y="1123" width="9.2" height="10" rx="1" fill="#fff"/>
<rect x="1975.4" y="1141.5" width="9.2" height="10" rx="1" fill="#fff"/>
<rect x="1931.5" y="1137" width="8.5" height="24" fill="#fff"/><rect x="1944.5" y="1137" width="8.5" height="24" fill="#fff"/>
<path d="M1043.0,938.1 L1296.1,938.1 L1296.1,874.2 L1402.0,874.2" fill="none" stroke="#92d050" stroke-width="5.5" stroke-dasharray="13.5 6.5"/>
<path d="M1421.4,920.2 L1421.4,974.6 L1183.4,974.6 L1183.4,1028.5" fill="none" stroke="#92d050" stroke-width="5.5" stroke-dasharray="13.5 6.5"/>
<path d="M1465.4,938.6 L1465.4,1108.0" fill="none" stroke="#92d050" stroke-width="5.5" stroke-dasharray="13.5 6.5"/>
<path d="M1529.1,874.2 L1614.5,874.2 L1614.5,940.7 L1852.0,940.7" fill="none" stroke="#92d050" stroke-width="5.5" stroke-dasharray="13.5 6.5"/>
<path d="M1510.1,920.2 L1510.1,974.2 L1721.4,974.2 L1721.4,1028.5" fill="none" stroke="#92d050" stroke-width="5.5" stroke-dasharray="13.5 6.5"/>
<circle cx="1466" cy="875.7" r="63" fill="#fff" stroke="#0879c0" stroke-width="12"/>
<path d="M1432.9,865.8 A35.6,35.6 0 0 1 1500.9,865.8 M1432.9,885.6 A35.6,35.6 0 0 0 1500.9,885.6" fill="none" stroke="#0879c0" stroke-width="5.5"/>
<path d="M1416.9,875.4 H1462 M1471,875.4 H1516.2" stroke="#0879c0" stroke-width="6.4"/>
<path d="M1446.7,861.7 L1464.5,875.4 L1446.7,890 M1487.3,861.5 L1469.5,875.4 L1487.3,890" fill="none" stroke="#0879c0" stroke-width="5.2"/></svg>
</body></html>
